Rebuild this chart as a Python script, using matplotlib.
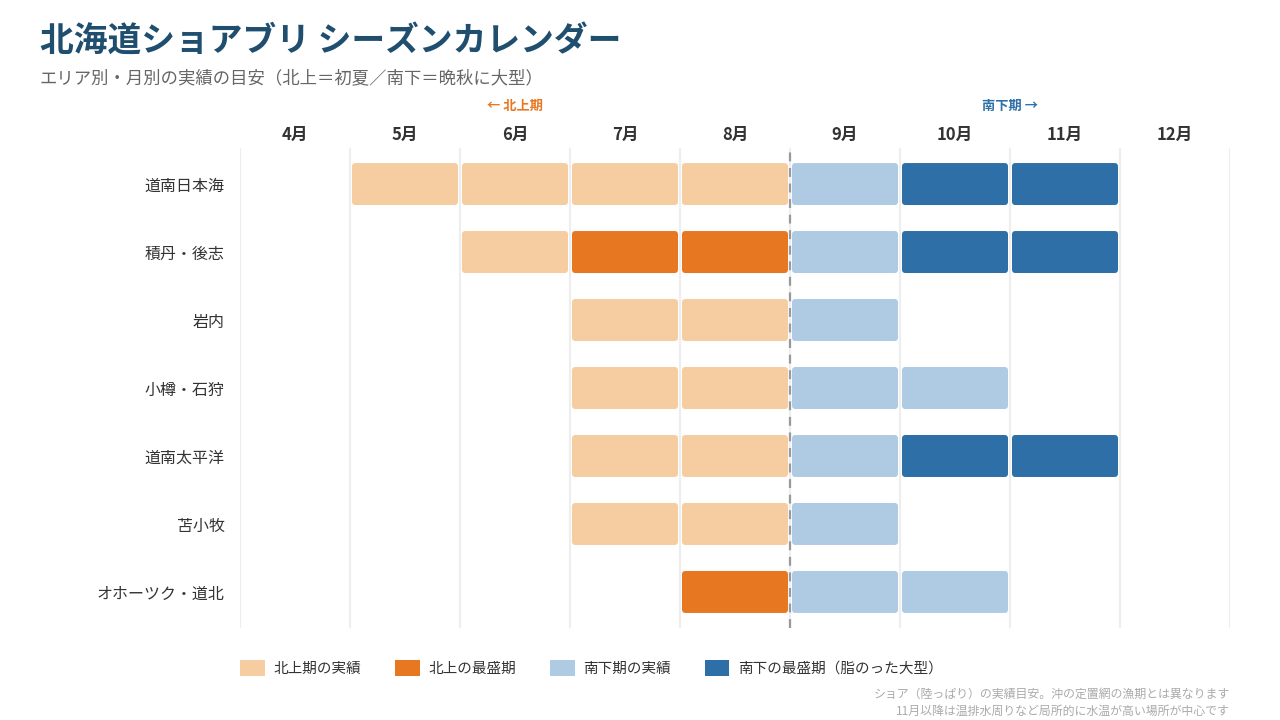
import matplotlib
matplotlib.use("Agg")
import matplotlib.pyplot as plt
from matplotlib.patches import FancyBboxPatch, Patch

plt.rcParams['font.family'] = ['Noto Sans CJK JP', 'DejaVu Sans']

# --- データ ---
months = [4, 5, 6, 7, 8, 9, 10, 11, 12]
month_labels = ["4月", "5月", "6月", "7月", "8月", "9月", "10月", "11月", "12月"]
areas = ["道南日本海", "積丹・後志", "岩内", "小樽・石狩", "道南太平洋", "苫小牧", "オホーツク・道北"]

# 0=なし, 1=北上期の実績, 2=北上の最盛期, 3=南下期の実績, 4=南下の最盛期
season_道南日本海 = [0, 1, 1, 1, 1, 3, 4, 4, 0]
season_積丹後志 = [0, 0, 1, 2, 2, 3, 4, 4, 0]
season_岩内 = [0, 0, 0, 1, 1, 3, 0, 0, 0]
season_小樽石狩 = [0, 0, 0, 1, 1, 3, 3, 0, 0]
season_道南太平洋 = [0, 0, 0, 1, 1, 3, 4, 4, 0]
season_苫小牧 = [0, 0, 0, 1, 1, 3, 0, 0, 0]
season_オホーツク = [0, 0, 0, 0, 2, 3, 3, 0, 0]
seasons = [season_道南日本海, season_積丹後志, season_岩内, season_小樽石狩,
           season_道南太平洋, season_苫小牧, season_オホーツク]

legend_labels = ["北上期の実績", "北上の最盛期", "南下期の実績", "南下の最盛期（脂のった大型）"]
colors = {1: "#F6CDA0", 2: "#E87722", 3: "#AFCBE3", 4: "#2E6FA7"}

# --- 図 ---
fig = plt.figure(figsize=(12.8, 7.2), dpi=100)
ax = fig.add_axes([240 / 1280, 1 - 628 / 720, 990 / 1280, 480 / 720])

ax.set_xlim(3.5, 12.5)
ax.set_ylim(len(areas) - 0.5 + 0.03, -0.5 - 0.03)

# グリッド（月の境界）
for b in range(4, 14):
    ax.axvline(b - 0.5, color="#EEEEEE", lw=1.6, zorder=0)
ax.axvline(8.5, color="#999999", lw=1.6, ls=(0, (4, 3)), zorder=3)

# バー
px_x = 110.0  # 1月あたりのピクセル
px_y = 68.0   # 1行あたりのピクセル
inset = 2.0 / px_x
bar_h = 42.0 / px_y
r = 3.5 / px_x
for i, row in enumerate(seasons):
    for m, v in zip(months, row):
        if v == 0:
            continue
        p = FancyBboxPatch((m - 0.5 + inset, i - bar_h / 2), 1 - 2 * inset, bar_h,
                           boxstyle=f"round,pad=0,rounding_size={r}",
                           mutation_aspect=px_x / px_y,
                           fc=colors[v], ec="none", zorder=2)
        ax.add_patch(p)

# 軸ラベル
ax.set_yticks(range(len(areas)))
ax.set_yticklabels(areas, fontsize=11.5, color="#333333")
ax.tick_params(axis="y", length=0, pad=11)
ax.xaxis.tick_top()
ax.set_xticks(months)
ax.set_xticklabels(month_labels, fontsize=12, fontweight="bold", color="#333333")
ax.tick_params(axis="x", length=0, pad=3)
for s in ax.spines.values():
    s.set_visible(False)

# 期間ラベル
ax.text(6.0, 1.0 + 42 / 480, "← 北上期", transform=ax.get_xaxis_transform(),
        ha="center", va="center", fontsize=9.5, fontweight="bold", color="#E87722")
ax.text(10.5, 1.0 + 42 / 480, "南下期 →", transform=ax.get_xaxis_transform(),
        ha="center", va="center", fontsize=9.5, fontweight="bold", color="#2E6FA7")

# タイトル
fig.text(40 / 1280, 1 - 40 / 720, "北海道ショアブリ シーズンカレンダー",
         fontsize=24.3, fontweight="bold", color="#1F4E6E", va="center", ha="left")
fig.text(40 / 1280, 1 - 78 / 720, "エリア別・月別の実績の目安（北上＝初夏／南下＝晩秋に大型）",
         fontsize=12.5, color="#666666", va="center", ha="left")

# 凡例
handles = [Patch(fc=colors[k], ec="none") for k in (1, 2, 3, 4)]
leg = fig.legend(handles, legend_labels, loc="center left",
                 bbox_to_anchor=(227 / 1280, 1 - 668 / 720), ncol=4, frameon=False,
                 fontsize=10.5, handlelength=1.7, handleheight=1.3, handletextpad=0.6,
                 columnspacing=2.3, labelcolor="#333333")

# 注記
fig.text(1230 / 1280, 1 - 694 / 720, "ショア（陸っぱり）の実績目安。沖の定置網の漁期とは異なります",
         fontsize=8.6, color="#AAAAAA", ha="right", va="center")
fig.text(1230 / 1280, 1 - 711 / 720, "11月以降は温排水周りなど局所的に水温が高い場所が中心です",
         fontsize=8.6, color="#AAAAAA", ha="right", va="center")

fig.savefig("out.png", dpi=100)
